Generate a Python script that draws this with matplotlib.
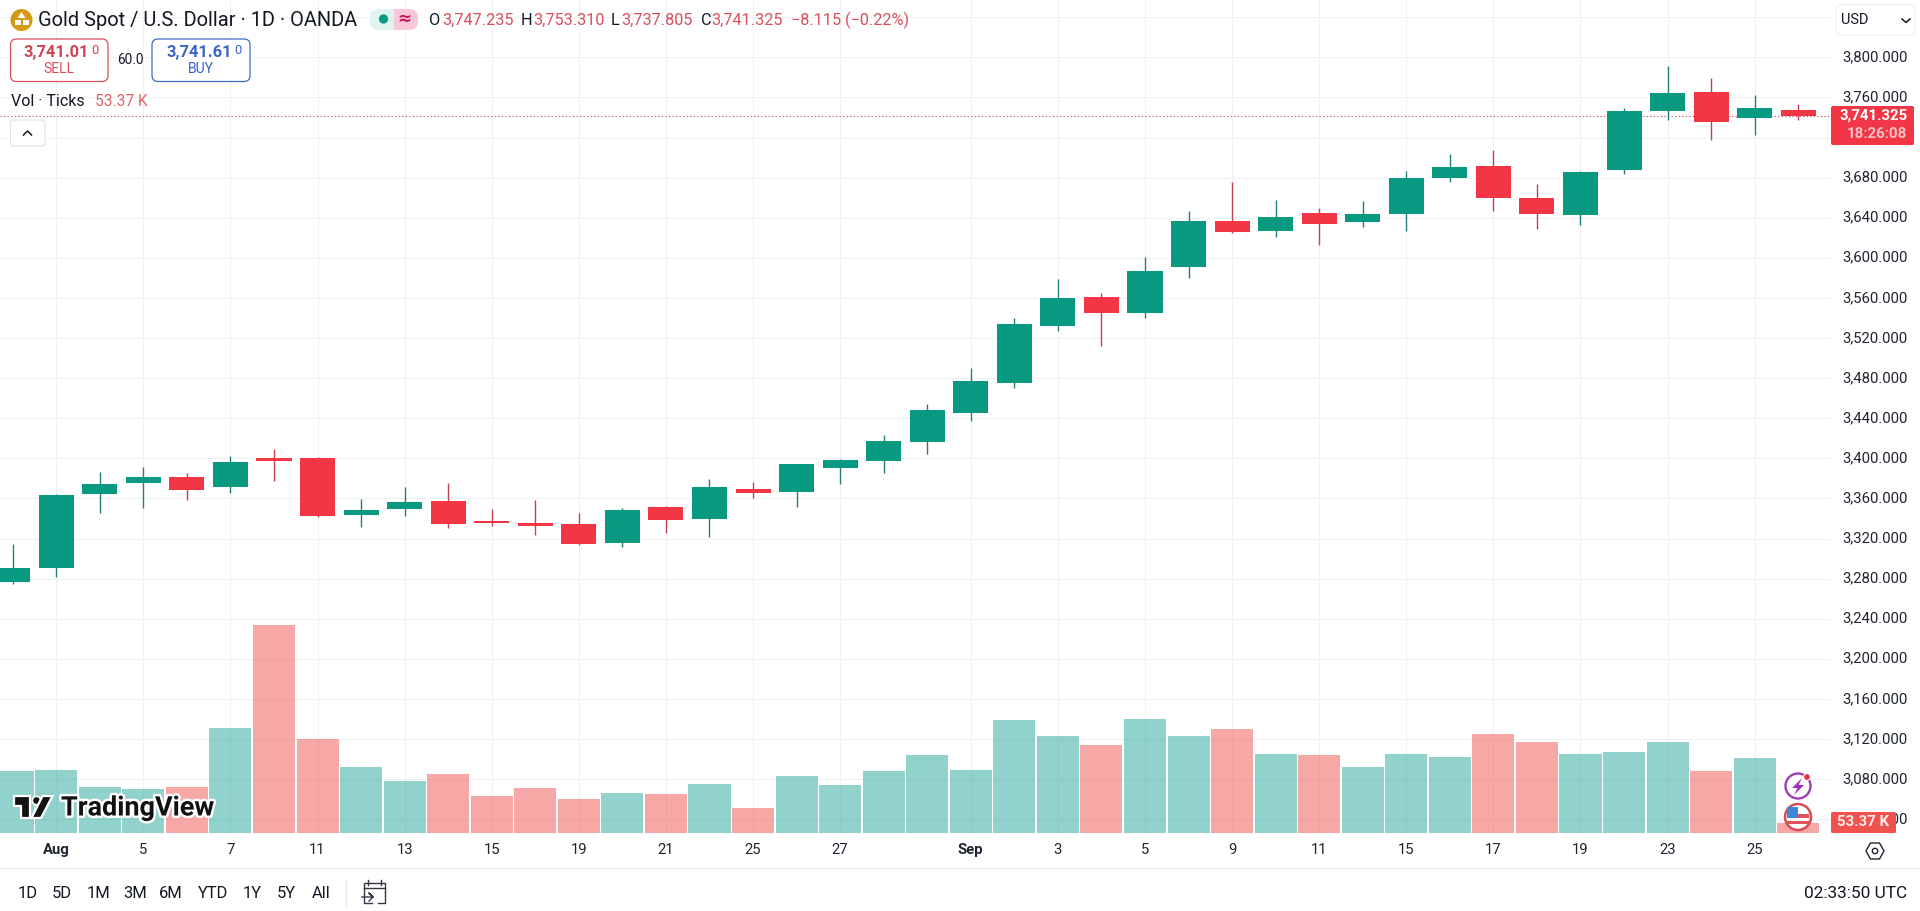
import matplotlib
matplotlib.use("Agg")
import matplotlib.pyplot as plt
import matplotlib.patheffects as pe
from matplotlib.patches import FancyBboxPatch, Circle, Rectangle, Polygon
from matplotlib.transforms import ScaledTranslation

plt.rcParams['font.family'] = ['Roboto', 'DejaVu Sans']

opens = [3276.7,3290.7,3364.7,3375.3,3381.3,3371.3,3400.3,3400.3,3343.3,3349.3,3357.3,3337.3,3335.3,3334.3,3315.3,3351.3,3339.3,3369.3,3366.3,3390.3,3397.3,3416.3,3445.3,3475.3,3532.2,3561.0,3545.1,3591.0,3636.8,3626.8,3644.5,3635.3,3643.3,3679.3,3691.3,3659.3,3642.3,3687.3,3746.3,3765.3,3739.3,3747.235]
highs = [3315.0,3364.3,3386.3,3391.3,3385.3,3402.3,3409.3,3401.0,3359.3,3371.3,3375.3,3349.5,3358.3,3345.3,3350.3,3352.3,3379.3,3376.3,3394.3,3399.3,3423.3,3454.3,3490.3,3540.1,3579.0,3565.0,3600.9,3646.8,3675.7,3657.7,3649.3,3656.3,3686.3,3703.3,3707.3,3673.3,3686.3,3749.3,3791.3,3779.3,3762.3,3753.31]
lows = [3275.0,3281.3,3345.3,3350.3,3358.3,3365.3,3377.3,3341.7,3331.3,3342.3,3330.3,3332.3,3323.3,3314.0,3311.3,3325.3,3321.3,3360.3,3351.3,3374.3,3385.3,3404.3,3437.3,3470.4,3527.2,3512.2,3540.1,3580.0,3625.0,3620.9,3612.5,3630.3,3626.3,3675.3,3646.3,3628.3,3632.3,3683.3,3737.3,3717.3,3722.3,3737.805]
closes = [3290.3,3363.3,3374.3,3381.3,3368.3,3396.3,3397.3,3342.3,3348.3,3356.3,3334.3,3335.3,3332.3,3314.3,3348.3,3338.3,3371.3,3365.3,3394.3,3398.3,3417.3,3448.3,3477.3,3534.2,3560.0,3545.1,3587.0,3636.8,3625.8,3640.8,3633.5,3643.3,3679.3,3690.3,3659.3,3643.3,3685.3,3746.3,3764.3,3735.3,3749.3,3741.325]
volumes_k = [339,345,251,240,251,576,1142,515,361,284,323,202,246,185,218,216,268,136,312,262,339,427,345,620,532,482,625,532,570,433,427,361,433,416,543,499,433,444,499,339,411,53.37]
x_tick_idx = [1,3,5,7,9,11,13,15,17,19,22,24,26,28,30,32,34,36,38,40]
x_tick_labels = ['Aug','5','7','11','13','15','19','21','25','27','Sep','3','5','9','11','15','17','19','23','25']
price_ticks = list(range(3040, 3841, 40))
hidden_price_labels = [3720, 3840]
last_price = 3741.325

UP, DOWN = '#089981', '#F23645'
UPW, DOWNW = '#1f7f78', '#c8404f'
VUP, VDOWN = '#26a69a', '#ef5350'
W, H = 1920, 911
fig = plt.figure(figsize=(W/100, H/100), dpi=100, facecolor='white')
PL_R, PL_B = 1831, 833
rect = [0, 1-PL_B/H, PL_R/W, PL_B/H]
ax = fig.add_axes(rect, zorder=1)
vax = fig.add_axes(rect, zorder=2, sharex=ax)
vax.patch.set_alpha(0)
ui = fig.add_axes([0, 0, 1, 1], zorder=10)
ui.patch.set_alpha(0)
ui.set_xlim(0, W); ui.set_ylim(H, 0); ui.axis('off')

n = list(range(len(opens)))
is_up = [c >= o for o, c in zip(opens, closes)]
colors = [UP if u else DOWN for u in is_up]
wicks = [UPW if u else DOWNW for u in is_up]
vcolors = [VUP if u else VDOWN for u in is_up]
ax.vlines(n, lows, highs, colors=wicks, linewidth=1.0, zorder=3)
ax.bar(n, [abs(c-o) for o, c in zip(opens, closes)], bottom=[min(o, c) for o, c in zip(opens, closes)],
       width=0.804, color=colors, linewidth=0, zorder=4)
ax.set_xlim(-12.7/43.55, (PL_R-12.7)/43.55)
ax.set_ylim(3800-775.7/1.0025, 3800+57.3/1.0025)
ax.set_yticks(price_ticks)
ax.set_yticklabels(['' if v in hidden_price_labels else f'{v:,.3f}' for v in price_ticks])
ax.set_xticks(x_tick_idx)
ax.set_xticklabels(x_tick_labels)
ax.yaxis.tick_right()
ax.tick_params(axis='both', length=0, labelsize=10.7, labelcolor='#1f2430')
ax.tick_params(axis='y', pad=8)
ax.tick_params(axis='x', pad=7.5)
up_shift = ScaledTranslation(0, 1.6/100, fig.dpi_scale_trans)
for lab in ax.get_yticklabels():
    lab.set_transform(lab.get_transform() + up_shift)
for lab in ax.get_xticklabels():
    if lab.get_text() in ('Aug', 'Sep'):
        lab.set_fontweight('bold')
ax.grid(True, color='#f0f1f4', linewidth=0.8, zorder=0)
ax.set_axisbelow(True)
for s in ax.spines.values():
    s.set_visible(False)
ax.axhline(last_price, color='#b8404c', linewidth=0.8, linestyle=(0, (1, 2.2)), zorder=2)

vax.bar(n, volumes_k, width=0.965, color=vcolors, alpha=0.5, linewidth=0)
vax.set_ylim(0, 833/(9.7/53.37))
vax.axis('off')


def T(x, y, s, size=13, color='#131722', ha='left', va='center', **kw):
    return ui.text(x, y, s, fontsize=size*0.72, color=color, ha=ha, va=va, **kw)


def box(x0, y0, x1, y1, fc='white', ec='none', lw=1.0, r=5, z=2):
    p = FancyBboxPatch((x0+r, y0+r), x1-x0-2*r, y1-y0-2*r, boxstyle=f'round,pad={r},rounding_size={r}',
                       fc=fc, ec=ec, lw=lw, zorder=z)
    ui.add_patch(p)
    return p


RT = '#d8505c'
# title row
ui.add_patch(Circle((21.5, 20), 11, fc='#d19a12', ec='none'))
ui.add_patch(Polygon([(21.5, 12), (25.5, 18), (17.5, 18)], fc='white', ec='none', zorder=3))
ui.add_patch(Rectangle((14.5, 20), 6, 5, fc='white', ec='none', zorder=3))
ui.add_patch(Rectangle((22.5, 20), 6, 5, fc='white', ec='none', zorder=3))
T(38, 20.5, 'Gold Spot / U.S. Dollar · 1D · OANDA', size=20)
box(370, 9, 418, 30, fc='#dff3f0', r=9)
box(394, 9, 418, 30, fc='#f9c8d8', r=9, z=2.4)
ui.add_patch(Rectangle((394, 9), 12, 21, fc='#f9c8d8', ec='none', zorder=2.5))
ui.add_patch(Circle((383.5, 19), 4.6, fc=UP, ec='none', zorder=3))
T(404, 19, '≈', size=17, color='#c2185b', ha='center', fontweight='bold', zorder=3, family=['DejaVu Sans'])
for lx, vx, l, v in [(429, 442, 'O', '3,747.235'), (520.5, 533, 'H', '3,753.310'),
                     (611, 621.5, 'L', '3,737.805'), (701, 711.5, 'C', '3,741.325')]:
    T(lx, 20.5, l, size=16.2)
    T(vx, 20.5, v, size=16.2, color=RT)
T(791, 20.5, '−8.115 (−0.22%)', size=16.2, color=RT)

# buy/sell
box(10.5, 39, 108, 81.5, ec='#d8505c', lw=0.9, r=6)
T(23.5, 52, '3,741.01', size=16.5, color='#cf4452', fontweight='bold')
T(91, 50.5, '0', size=13, color='#cf4452')
T(59, 69, 'SELL', size=14, color='#d8505c', ha='center')
T(130, 60, '60.0', size=13.5, ha='center')
box(152, 39, 250, 81.5, ec='#3f6bc4', lw=0.9, r=6)
T(166.5, 52, '3,741.61', size=16.5, color='#3a63c7', fontweight='bold')
T(234, 50.5, '0', size=13, color='#3a63c7')
T(201, 69, 'BUY', size=14, color='#3a63c7', ha='center')

T(11, 102, 'Vol · Ticks', size=16)
T(95, 102, '53.37 K', size=15.5, color='#e0626a')
box(10.5, 120, 45, 146, ec='#e0e3eb', lw=0.8, r=3)
ui.plot([23.5, 27.5, 31.5], [135, 131, 135], color='#131722', lw=1.1, zorder=4)

# currency button
box(1836, 4.5, 1915, 35, ec='#eceef2', lw=0.8, r=5, z=3)
T(1841, 20.5, 'USD', size=14.5, zorder=4)
ui.plot([1902, 1906, 1910], [19, 22.5, 19], color='#131722', lw=1.1, zorder=4)

# price tags
box(1831, 106, 1914, 145, fc='#F23645', r=2, z=3)
T(1907.5, 116, '3,741.325', size=15, color='white', ha='right', fontweight='bold', zorder=4)
T(1907.5, 134, '18:26:08', size=15, color='#fbc3c8', ha='right', fontweight='bold', zorder=4)
box(1831, 812, 1896, 833, fc='#EF5350', r=1.5, z=3)
T(1863.5, 822.5, '53.37 K', size=15, color='#ffe8e8', ha='center', fontweight='bold', zorder=4)

# events icons
ui.add_patch(Circle((1798, 786), 12.5, fc='white', ec='#9c3fb5', lw=1.7, zorder=3))
ui.add_patch(Polygon([(1802, 778), (1792, 788), (1797.5, 788), (1794, 795), (1804, 785), (1798.5, 785)],
                     fc='#a02cc4', ec='none', zorder=4))
ui.add_patch(Circle((1807, 777), 3.4, fc='#e5303f', ec='white', lw=0.8, zorder=5))
ui.add_patch(Circle((1798, 817), 13, fc='white', ec='#d84a55', lw=1.8, zorder=3))
ui.add_patch(Rectangle((1787, 807), 11, 11, fc='#3d87d8', ec='none', zorder=4))
ui.add_patch(Rectangle((1798, 814), 11, 4, fc='#e0525c', ec='none', zorder=4))
ui.add_patch(Rectangle((1787, 821), 22, 3, fc='#e0525c', ec='none', zorder=4))

# watermark
halo = [pe.withStroke(linewidth=3.5, foreground='white')]
ui.add_patch(Polygon([(14, 796), (30, 796), (30, 818), (21, 818), (21, 806), (14, 806)],
                     fc='#131313', ec='white', lw=1.6, zorder=5))
ui.add_patch(Circle((36.5, 800.5), 4.2, fc='#131313', ec='white', lw=1.2, zorder=5))
ui.add_patch(Polygon([(42.5, 796), (52.5, 796), (41, 818), (31.5, 818)],
                     fc='#131313', ec='white', lw=1.6, zorder=5))
T(61, 808, 'TradingView', size=27, color='#111111', fontweight='bold', zorder=6, path_effects=halo)

# time axis furniture
ui.plot([0, W], [868, 868], color='#e6e8ee', lw=0.8)
ui.add_patch(Polygon([(1866, 851), (1870.5, 843), (1879.5, 843), (1884, 851), (1879.5, 859), (1870.5, 859)],
                     fc='white', ec='#1f2430', lw=1.0))
ui.add_patch(Circle((1875, 851), 2.7, fc='white', ec='#1f2430', lw=1.0))

# bottom bar
for x, s in [(28, '1D'), (62, '5D'), (99, '1M'), (135.5, '3M'), (171, '6M'), (213, 'YTD'),
             (252, '1Y'), (286.5, '5Y'), (321.5, 'All')]:
    T(x, 894, s, size=16.5, ha='center')
ui.plot([346, 346], [880, 906], color='#e6e8ee', lw=0.8)
ui.plot([372, 364, 364, 385, 385], [903, 903, 883, 883, 892], color='#333844', lw=1.0)
ui.plot([364, 385], [888, 888], color='#333844', lw=1.0)
ui.plot([368, 368], [880, 885], color='#333844', lw=1.0)
ui.plot([381, 381], [880, 885], color='#333844', lw=1.0)
ui.plot([362, 373, 369, 373, 369], [897, 897, 893, 897, 901], color='#333844', lw=1.0)
ui.plot([385, 385, 378], [892, 903, 903], color='#333844', lw=1.0)
T(1907, 894, '02:33:50 UTC', size=17.3, ha='right')

fig.savefig('out.png', dpi=100, facecolor='white')
